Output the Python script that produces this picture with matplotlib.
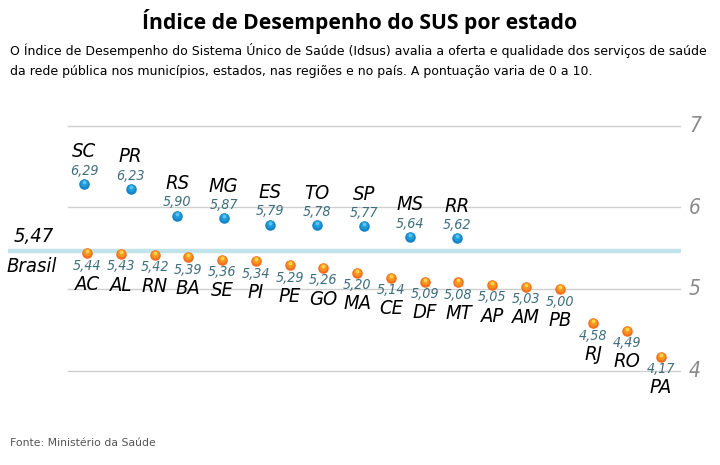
import matplotlib
matplotlib.use("Agg")
import matplotlib.pyplot as plt

# ---- data ----
above_states = ["SC", "PR", "RS", "MG", "ES", "TO", "SP", "MS", "RR"]
above_values = [6.29, 6.23, 5.90, 5.87, 5.79, 5.78, 5.77, 5.64, 5.62]
below_states = ["AC", "AL", "RN", "BA", "SE", "PI", "PE", "GO", "MA", "CE",
                "DF", "MT", "AP", "AM", "PB", "RJ", "RO", "PA"]
below_values = [5.44, 5.43, 5.42, 5.39, 5.36, 5.34, 5.29, 5.26, 5.20, 5.14,
                5.09, 5.08, 5.05, 5.03, 5.00, 4.58, 4.49, 4.17]
brasil_value = 5.47
y_ticks = [4, 5, 6, 7]

title = "Índice de Desempenho do SUS por estado"
subtitle1 = ("O Índice de Desempenho do Sistema Único de Saúde (Idsus) avalia a oferta e qualidade dos serviços de saúde")
subtitle2 = "da rede pública nos municípios, estados, nas regiões e no país. A pontuação varia de 0 a 10."
source = "Fonte: Ministério da Saúde"

def fmt(v):
    return f"{v:.2f}".replace(".", ",")

W, H = 720, 465
fig = plt.figure(figsize=(W / 100, H / 100), dpi=100)
fig.patch.set_facecolor("white")

top_px, bot_px = 100, 410
px_per_unit = (370.5 - 126) / 3.0
ymax = 7 + (126 - top_px) / px_per_unit
ymin = 4 - (bot_px - 370.5) / px_per_unit
ax = fig.add_axes([0, (H - bot_px) / H, 1, (bot_px - top_px) / H])
ax.set_xlim(0, W)
ax.set_ylim(ymin, ymax)
ax.axis("off")

cond = dict(family="DejaVu Sans", stretch="condensed", style="italic")
val_color = "#3f6e7d"

for t in y_ticks:
    ax.plot([68, 680], [t, t], color="#cfcfcf", lw=1.0, zorder=1)
    ax.text(689, t, str(t), fontsize=15, color="#8a8a8a",
            ha="left", va="center", **cond)

ax.plot([8, 681], [brasil_value, brasil_value], color="#c0e4ea", lw=3.2,
        zorder=2, solid_capstyle="butt")
ax.annotate(fmt(brasil_value), (34, brasil_value), xytext=(0, 10.5),
            textcoords="offset points", ha="center", va="center",
            fontsize=14.5, color="black", **cond)
ax.annotate("Brasil", (32, brasil_value), xytext=(0, -11.5),
            textcoords="offset points", ha="center", va="center",
            fontsize=14.5, color="black", **cond)

def marker(x, y, base, mid, light):
    ax.plot([x], [y], "o", ms=7.6, color=base, mec="none", zorder=4)
    ax.plot([x], [y + 0.012], "o", ms=5.6, color=mid, mec="none", zorder=5)
    ax.plot([x], [y + 0.025], "o", ms=2.8, color=light, mec="none", zorder=6)

x0a, stepa = 84, 46.6
for i, (s, v) in enumerate(zip(above_states, above_values)):
    x = x0a + stepa * i
    marker(x, v, "#1583c6", "#1e9ad8", "#5cc3ee")
    ax.annotate(fmt(v), (x, v), xytext=(0, 9.5), textcoords="offset points",
                ha="center", va="center", fontsize=10.3, color=val_color, **cond)
    ax.annotate(s, (x, v), xytext=(0, 23), textcoords="offset points",
                ha="center", va="center", fontsize=14.5, color="black", **cond)

x0b, stepb = 87, 33.76
for i, (s, v) in enumerate(zip(below_states, below_values)):
    x = x0b + stepb * i
    marker(x, v, "#f26f21", "#f7941d", "#fcd34d")
    ax.annotate(fmt(v), (x, v), xytext=(0, -9), textcoords="offset points",
                ha="center", va="center", fontsize=10.3, color=val_color, **cond)
    ax.annotate(s, (x, v), xytext=(0, -22.5), textcoords="offset points",
                ha="center", va="center", fontsize=14.5, color="black", **cond)

fig.text(360 / W, 1 - 22 / H, title, ha="center", va="center",
         fontsize=15.2, fontweight="bold", family="Open Sans", color="black")
fig.text(10 / W, 1 - 50 / H, subtitle1, ha="left", va="center",
         fontsize=8.98, family="DejaVu Sans", color="black")
fig.text(10 / W, 1 - 71 / H, subtitle2, ha="left", va="center",
         fontsize=8.98, family="DejaVu Sans", color="black")
fig.text(10 / W, 1 - 443 / H, source, ha="left", va="center",
         fontsize=7.8, family="DejaVu Sans", color="#555555")

fig.savefig("out.png", dpi=100, facecolor="white")
